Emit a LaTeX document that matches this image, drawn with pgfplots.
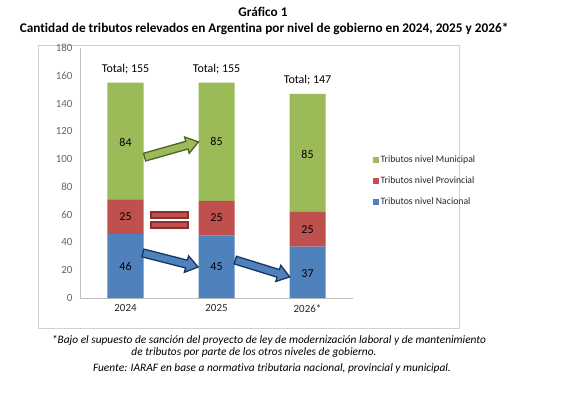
\documentclass[border=0pt]{standalone}
\usepackage{pgfplots}
\pgfplotsset{compat=1.18}
\usepackage{fontspec}
\setmainfont{Carlito}[Ligatures=NoCommon]
\definecolor{cblue}{HTML}{4F81BD}
\definecolor{cred}{HTML}{C0504D}
\definecolor{cgreen}{HTML}{9BBB59}
\definecolor{dgreen}{HTML}{4F6228}
\definecolor{dblue}{HTML}{17375E}
\definecolor{dred}{HTML}{8B2E2C}
\definecolor{tickgray}{HTML}{666666}
\newcommand{\sep}{;}
% block arrow: #1 style, #2 position, #3 angle, #4 length
\newcommand{\blockarrow}[4]{%
  \begin{scope}[shift={#2}, rotate=#3]
  \draw[#1, line width=1.3bp, line join=miter]
    (-#4/2,-4) -- (#4/2-12,-4) -- (#4/2-12,-8.5) -- (#4/2,0) -- (#4/2-12,8.5) -- (#4/2-12,4) -- (-#4/2,4) -- cycle;
  \end{scope}}
\begin{document}
\begin{tikzpicture}[x=1bp,y=1bp]
\useasboundingbox (-80,-100) rectangle (488,298);
\draw[black!18] (-42,-30) rectangle (379,253);
\node[font=\bfseries\fontsize{13.3}{15}\selectfont] at (183,286) {Gráfico 1};
\node[font=\bfseries\fontsize{13.3}{15}\selectfont] at (184,269) {Cantidad de tributos relevados en Argentina por nivel de gobierno en 2024, 2025 y 2026*};
\begin{axis}[at={(0,0)}, anchor=south west, scale only axis,
  width=273bp, height=250bp,
  ymin=0, ymax=180, xmin=-0.5, xmax=2.5,
  ybar stacked, bar width=36bp,
  xtick={0,1,2}, xticklabels={2024,2025,2026*},
  ytick={0,20,...,180},
  axis x line*=bottom, axis y line*=left,
  axis line style={black!25},
  major tick length=0pt,
  yticklabel style={font=\fontsize{11}{13}\selectfont, text=tickgray, xshift=-4bp},
  xticklabel style={font=\fontsize{11}{13}\selectfont, text=black!85, yshift=-3bp},
  /pgf/number format/assume math mode=true,
  legend style={at={(1.06,0.585)}, anchor=north west, draw=none, fill=none,
    font=\fontsize{9.8}{11}\selectfont, row sep=8.5bp, text=black!85},
  legend cell align=left,
  reverse legend,
  legend image code/.code={\fill[#1] (0bp,-3bp) rectangle (6bp,3bp);},
]
\addplot[fill=cblue, draw=none] coordinates {(0,46) (1,45) (2,37)};
\addlegendentry{Tributos nivel Nacional}
\addplot[fill=cred, draw=none] coordinates {(0,25) (1,25) (2,25)};
\addlegendentry{Tributos nivel Provincial}
\addplot[fill=cgreen, draw=none] coordinates {(0,84) (1,85) (2,85)};
\addlegendentry{Tributos nivel Municipal}
\end{axis}
\begin{axis}[at={(0,0)}, anchor=south west, scale only axis,
  width=273bp, height=250bp,
  ymin=0, ymax=180, xmin=-0.5, xmax=2.5, hide axis]
\addplot[only marks, mark=none, nodes near coords, point meta=explicit symbolic,
  every node near coord/.append style={anchor=center, font=\fontsize{12}{14}\selectfont, text=black}]
  coordinates {(0,23)[46] (1,22.5)[45] (2,17.5)[37]
               (0,58.5)[25] (1,57.5)[25] (2,49.5)[25]
               (0,112)[84] (1,112.5)[85] (2,103.5)[85]
               (0,165)[Total\sep{} 155] (1,165)[Total\sep{} 155] (2,157)[Total\sep{} 147]};
\end{axis}
\blockarrow{draw=dgreen, fill=cgreen}{(91.5,148.5)}{15.8}{56}
\blockarrow{draw=dblue, fill=cblue}{(90.5,38)}{-14.3}{57}
\blockarrow{draw=dblue, fill=cblue}{(182.5,29.5)}{-17.2}{57}
\draw[fill=cred, draw=dred, line width=1.2bp] (71,80) rectangle (108,86);
\draw[fill=cred, draw=dred, line width=1.2bp] (71,70) rectangle (108,76);
\node[font=\itshape\fontsize{11.4}{13}\selectfont] at (189,-42) {*Bajo el supuesto de sanción del proyecto de ley de modernización laboral y de mantenimiento};
\node[font=\itshape\fontsize{11.4}{13}\selectfont] at (174,-55) {de tributos por parte de los otros niveles de gobierno.};
\node[font=\itshape\fontsize{11.4}{13}\selectfont] at (192,-70) {Fuente: IARAF en base a normativa tributaria nacional, provincial y municipal.};
\end{tikzpicture}
\end{document}
